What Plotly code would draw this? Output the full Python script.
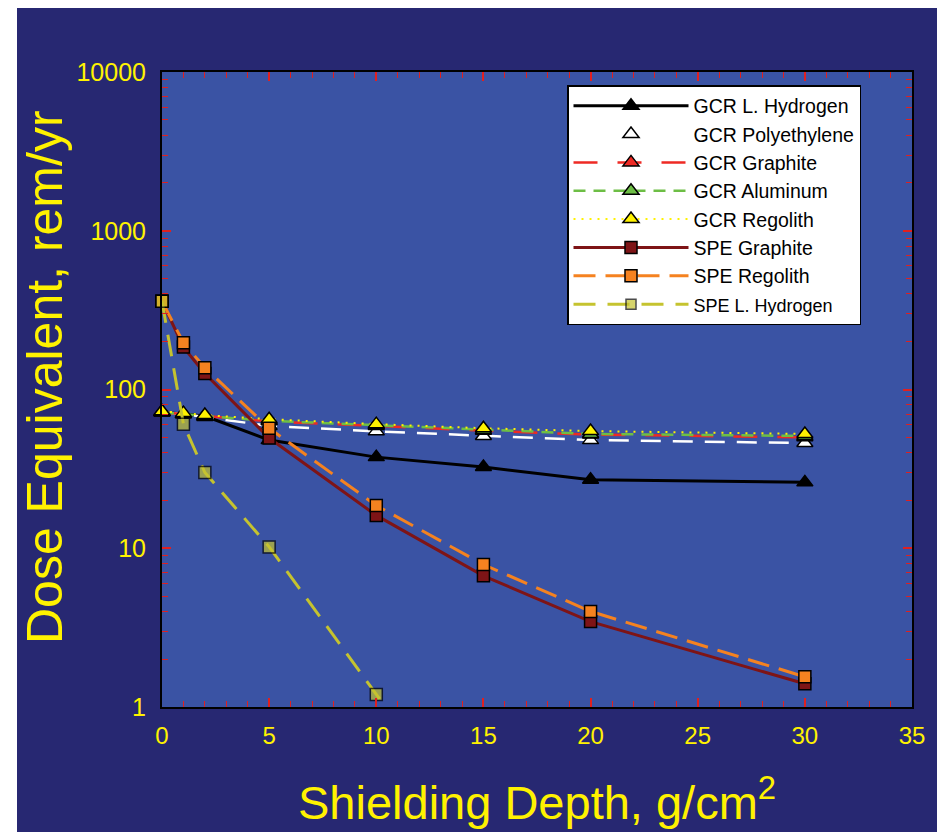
import plotly.graph_objects as go

# ---------------- data ----------------
depth = [0, 1, 2, 5, 10, 15, 20, 30]
gcr_lh2 = [72, 70, 68, 48, 37.5, 32.5, 27, 26]
gcr_poly = [72, 70, 67, 59, 54.5, 51, 48, 46]
gcr_graphite = [72, 70, 68, 63, 59, 55, 52, 50]
gcr_aluminum = [72, 70, 68, 63.5, 59.5, 55.5, 52.5, 51]
gcr_regolith = [73, 71, 69, 65, 60.5, 57, 54.7, 52.5]

spe_depth = [0, 1, 2, 5, 10, 15, 20, 30]
spe_graphite = [360, 185, 126, 49.5, 16.1, 6.7, 3.45, 1.4]
spe_regolith = [360, 197, 137, 57, 18.6, 7.9, 4.0, 1.55]

spe_lh2_depth = [0, 1, 2, 5, 10, 15]
spe_lh2 = [360, 60.5, 30, 10.2, 1.2, 0.15]   # last point lies below the axis (clipped)

x_ticks = [0, 5, 10, 15, 20, 25, 30, 35]
y_tickvals = [1, 10, 100, 1000, 10000]
y_ticktext = ["1", "10", "100", "1000", "10000"]
y_minor = [k * 10 ** n for n in range(4) for k in range(2, 10)]

# ---------------- style ----------------
NAVY = "#272872"
PLOTBG = "#3A53A4"
YEL = "#FFF200"
FONT = "Liberation Sans, Arial, sans-serif"

OFF = 8                      # page body margin
W, H = 937, 824
ML, MR, MT, MB = 154, 33, 64, 125
PW, PH = W - ML - MR, H - MT - MB

fig = go.Figure()

def tri(name, y, lc, mc, dash, lw):
    fig.add_trace(go.Scatter(
        x=depth, y=y, name=name, mode="lines+markers",
        line=dict(color=lc, width=lw, dash=dash),
        marker=dict(symbol="triangle-up", size=14, color=mc,
                    line=dict(color="black", width=1.5)),
        cliponaxis=False,
    ))

tri("GCR L. Hydrogen", gcr_lh2, "black", "black", "solid", 3)
tri("GCR Polyethylene", gcr_poly, "white", "white", "20px,12px", 2.5)
tri("GCR Graphite", gcr_graphite, "#EE2A24", "#EE2A24", "24px,20px", 2.5)
tri("GCR Aluminum", gcr_aluminum, "#6DBE45", "#6DBE45", "12px,8px", 2.5)
tri("GCR Regolith", gcr_regolith, "#FFF200", "#FFF200", "2px,6px", 2)

fig.add_trace(go.Scatter(
    x=spe_depth, y=spe_graphite, name="SPE Graphite", mode="lines+markers",
    line=dict(color="#7E1416", width=3),
    marker=dict(symbol="square", size=12, color="#7E1416", line=dict(color="black", width=1.5)),
    cliponaxis=False,
))
fig.add_trace(go.Scatter(
    x=spe_depth, y=spe_regolith, name="SPE Regolith", mode="lines+markers",
    line=dict(color="#F58220", width=3, dash="22px,10px"),
    marker=dict(symbol="square", size=12, color="#F58220", line=dict(color="black", width=1.5)),
    cliponaxis=False,
))
fig.add_trace(go.Scatter(
    x=spe_lh2_depth, y=spe_lh2, name="<span style='font-size:18px'>SPE L. Hydrogen</span>",
    mode="lines+markers",
    line=dict(color="#C5C32F", width=3, dash="22px,12px"),
    marker=dict(symbol="square", size=[12] * (len(spe_lh2) - 1) + [0],
                color="#C5C32F", line=dict(color="black", width=1.5)),
    cliponaxis=False,
))

fig.update_xaxes(
    range=[0, 35], tickvals=x_ticks, ticks="inside", ticklen=9, tickwidth=1.5,
    tickcolor="#E02020", showline=True, linecolor="black", linewidth=2, mirror="allticks",
    showgrid=False, zeroline=False,
    tickfont=dict(family=FONT, size=24, color=YEL), ticklabelstandoff=6,
    minor=dict(dtick=1, ticks="inside", ticklen=6, tickwidth=1.2, tickcolor="#E02020", showgrid=False),
)
fig.update_yaxes(
    type="log", range=[0, 4], tickvals=y_tickvals, ticktext=y_ticktext,
    ticks="inside", ticklen=9, tickwidth=1.5, tickcolor="#E02020",
    showline=True, linecolor="black", linewidth=2, mirror="allticks",
    showgrid=False, zeroline=False,
    tickfont=dict(family=FONT, size=25, color=YEL), ticklabelstandoff=9,
    minor=dict(tickvals=y_minor, ticks="inside", ticklen=6, tickwidth=1.2, tickcolor="#E02020", showgrid=False),
)

def px_x(p):   # page pixel -> paper fraction
    return (p - OFF - ML) / PW

def px_y(p):
    return (H - MB - (p - OFF)) / PH

fig.add_annotation(
    text="Dose Equivalent, rem/yr", textangle=-90, showarrow=False,
    xref="paper", yref="paper", x=px_x(45), y=px_y(377), xanchor="center", yanchor="middle",
    font=dict(family=FONT, size=50, color=YEL),
)
fig.add_annotation(
    text="Shielding Depth, g/cm<sup>2</sup>", showarrow=False,
    xref="paper", yref="paper", x=px_x(537), y=px_y(799), xanchor="center", yanchor="middle",
    font=dict(family=FONT, size=47, color=YEL),
)

# white strip along the left edge of the slide
fig.add_shape(type="rect", xref="paper", yref="paper", x0=px_x(0), x1=px_x(17), y0=px_y(H + 20), y1=px_y(0),
              fillcolor="white", line=dict(width=0), layer="below")

fig.update_layout(
    width=W, height=H,
    margin=dict(l=ML, r=MR, t=MT, b=MB),
    paper_bgcolor=NAVY, plot_bgcolor=PLOTBG,
    showlegend=True,
    legend=dict(
        x=px_x(567), y=px_y(85), xanchor="left", yanchor="top",
        bgcolor="white", bordercolor="black", borderwidth=1.5,
        font=dict(family=FONT, size=19.5, color="black"),
        itemwidth=115, tracegroupgap=0,
    ),
)

fig.write_html("out.html")
